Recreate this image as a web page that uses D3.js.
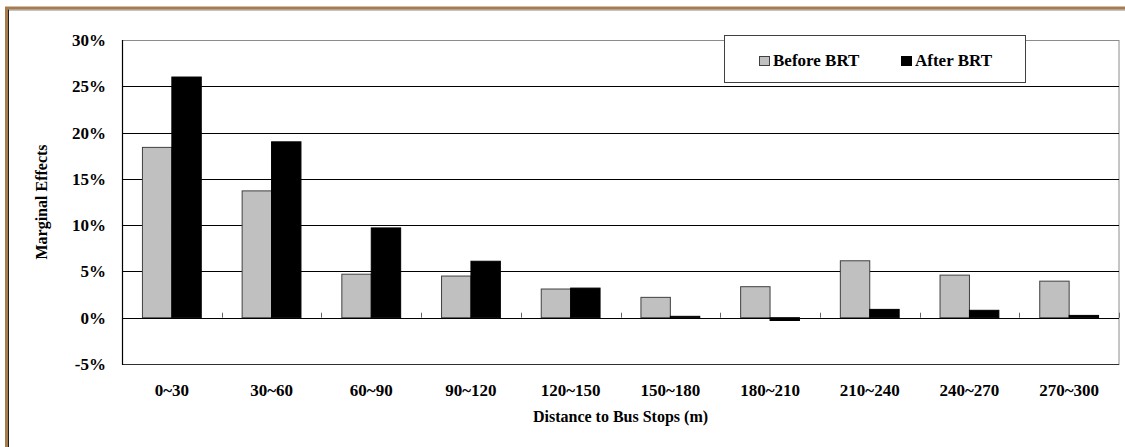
<!DOCTYPE html>
<html>
<head>
<meta charset="utf-8">
<script src="https://cdn.jsdelivr.net/npm/d3@7/dist/d3.min.js"></script>
<style>
  html, body { margin: 0; padding: 0; background: #fff; }
  svg { display: block; }
  text { font-family: "Liberation Serif", "Times New Roman", serif; font-weight: bold; fill: #000; }
</style>
</head>
<body>
<svg id="chart" width="1125" height="447"></svg>
<script>
const categories = ["0~30", "30~60", "60~90", "90~120", "120~150", "150~180", "180~210", "210~240", "240~270", "270~300"];
const seriesNames = ["Before BRT", "After BRT"];
const beforeBRT = [18.4, 13.7, 4.7, 4.5, 3.1, 2.2, 3.35, 6.15, 4.6, 3.95];
const afterBRT = [26.0, 19.0, 9.7, 6.1, 3.2, 0.15, -0.3, 0.9, 0.8, 0.25];
const yTicks = [-5, 0, 5, 10, 15, 20, 25, 30];
const seriesColors = ["#c0c0c0", "#000000"];
const seriesStroke = ["#404040", "#000000"];

const svg = d3.select("#chart");
const W = 1125, H = 447;
const plot = { left: 122, right: 1119, top: 40, bottom: 364 };

// outer frame
svg.append("line").attr("x1", 6.5).attr("x2", 6.5).attr("y1", 7).attr("y2", H).attr("stroke", "#a97a4c").attr("stroke-width", 3);
svg.append("line").attr("x1", 5).attr("x2", W).attr("y1", 8).attr("y2", 8).attr("stroke", "#a97a4c").attr("stroke-width", 3);
svg.append("line").attr("x1", 8.5).attr("x2", W).attr("y1", 10).attr("y2", 10).attr("stroke", "#8a8a8a").attr("stroke-width", 1);
svg.append("line").attr("x1", 8.5).attr("x2", 8.5).attr("y1", 9.5).attr("y2", H).attr("stroke", "#202020").attr("stroke-width", 1);

const x0 = d3.scaleBand().domain(categories).range([plot.left, plot.right]).padding(0);
const bw = x0.bandwidth();
const x1 = d3.scaleBand().domain(seriesNames).range([bw * 0.205, bw * 0.795]).padding(0);
const y = d3.scaleLinear().domain([-5, 30]).range([plot.bottom, plot.top]);

// plot border
svg.append("rect").attr("x", plot.left + 0.5).attr("y", plot.top + 0.5)
  .attr("width", plot.right - plot.left - 0.5).attr("height", plot.bottom - plot.top)
  .attr("fill", "none").attr("stroke", "#8c8c8c").attr("stroke-width", 1);

// gridlines
svg.append("g").selectAll("line").data(yTicks.filter(t => t > -5 && t < 30)).join("line")
  .attr("x1", plot.left).attr("x2", plot.right)
  .attr("y1", d => Math.round(y(d)) + 0.5).attr("y2", d => Math.round(y(d)) + 0.5)
  .attr("stroke", "#000").attr("stroke-width", 1);
svg.append("line").attr("x1", plot.left).attr("x2", plot.right)
  .attr("y1", Math.round(y(-5)) + 0.5).attr("y2", Math.round(y(-5)) + 0.5)
  .attr("stroke", "#303030").attr("stroke-width", 1);

// bars
const data = categories.map((c, i) => ({ cat: c, vals: [beforeBRT[i], afterBRT[i]] }));
const groups = svg.append("g").selectAll("g").data(data).join("g")
  .attr("transform", d => `translate(${x0(d.cat)},0)`);
groups.selectAll("rect").data(d => d.vals.map((v, j) => ({ v, s: seriesNames[j], j }))).join("rect")
  .attr("x", d => x1(d.s))
  .attr("width", x1.bandwidth())
  .attr("y", d => y(Math.max(0, d.v)))
  .attr("height", d => Math.abs(y(d.v) - y(0)))
  .attr("fill", d => seriesColors[d.j])
  .attr("stroke", d => seriesStroke[d.j])
  .attr("stroke-width", 1);

// zero line on top
svg.append("line").attr("x1", plot.left).attr("x2", plot.right)
  .attr("y1", Math.round(y(0)) + 0.5).attr("y2", Math.round(y(0)) + 0.5)
  .attr("stroke", "#000").attr("stroke-width", 1);

// category tick marks on zero line
const bounds = categories.map(c => x0(c)).slice(1).concat([plot.right]);
svg.append("g").selectAll("line").data(bounds).join("line")
  .attr("x1", d => Math.round(d) + 0.5).attr("x2", d => Math.round(d) + 0.5)
  .attr("y1", y(0) - 5).attr("y2", y(0))
  .attr("stroke", "#666").attr("stroke-width", 1);

// y axis line
svg.append("line").attr("x1", plot.left + 0.5).attr("x2", plot.left + 0.5)
  .attr("y1", plot.top).attr("y2", plot.bottom + 1)
  .attr("stroke", "#000").attr("stroke-width", 1.2);

// y tick labels
svg.append("g").selectAll("text").data(yTicks).join("text")
  .attr("x", 106).attr("y", d => y(d) + 6)
  .attr("text-anchor", "end").attr("font-size", 17)
  .text(d => d + "%");

// x category labels
svg.append("g").selectAll("text").data(categories).join("text")
  .attr("x", d => x0(d) + bw / 2).attr("y", 396)
  .attr("text-anchor", "middle").attr("font-size", 17)
  .text(d => d);

// axis titles
svg.append("text").attr("x", (plot.left + plot.right) / 2).attr("y", 422)
  .attr("text-anchor", "middle").attr("font-size", 16)
  .text("Distance to Bus Stops (m)");
svg.append("text").attr("transform", `translate(47,${(plot.top + plot.bottom) / 2}) rotate(-90)`)
  .attr("text-anchor", "middle").attr("font-size", 16)
  .text("Marginal Effects");

// legend
const lg = svg.append("g");
lg.append("rect").attr("x", 724.5).attr("y", 35.5).attr("width", 301).attr("height", 47)
  .attr("fill", "#fff").attr("stroke", "#404040").attr("stroke-width", 1);
const legendX = [759, 901];
seriesNames.forEach((s, i) => {
  lg.append("rect").attr("x", legendX[i] + 0.5).attr("y", 56.5).attr("width", 10).attr("height", 9)
    .attr("fill", seriesColors[i]).attr("stroke", seriesStroke[i]).attr("stroke-width", 1);
  lg.append("text").attr("x", legendX[i] + 14).attr("y", 66).attr("font-size", 17).text(s);
});
</script>
</body>
</html>
